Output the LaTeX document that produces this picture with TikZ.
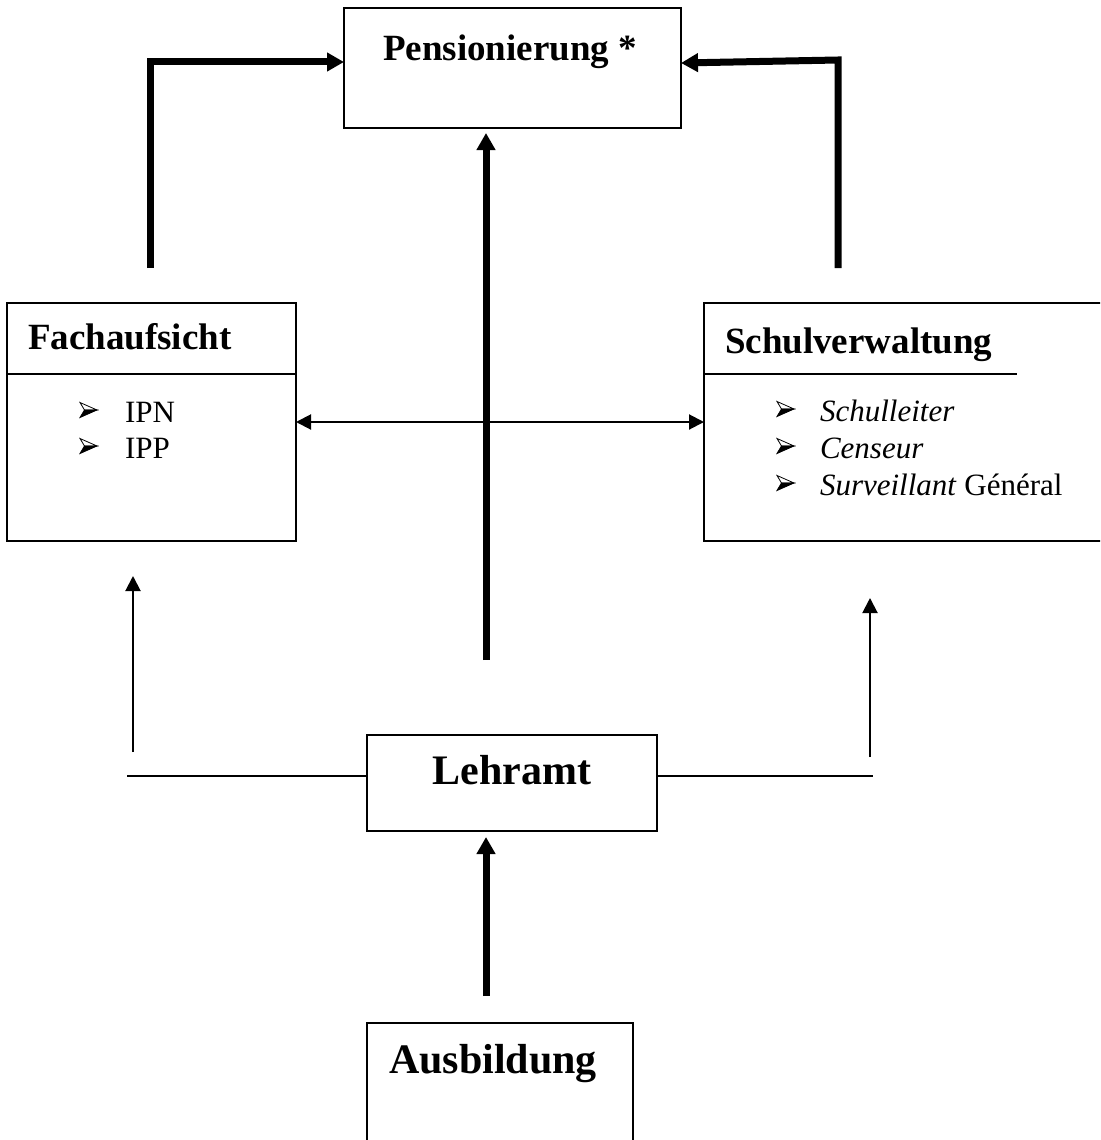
\documentclass[tikz,border=0pt]{standalone}
\usepackage{fontspec}
\setmainfont{Liberation Serif}
\usetikzlibrary{arrows.meta}

\newcommand{\hdfont}{\fontsize{37pt}{44pt}\selectfont\bfseries}
\newcommand{\bigfont}{\fontsize{42pt}{50pt}\selectfont\bfseries}
\newcommand{\itemfont}{\fontsize{31pt}{37pt}\selectfont}

\begin{document}
\begin{tikzpicture}[x=1pt,y=-1pt,
  box/.style={draw, line width=2pt, inner sep=0pt, outer sep=0pt, anchor=north west},
  label/.style={inner sep=0pt, outer sep=0pt, anchor=base west},
  heavy/.style={line width=7pt, line join=miter, -{Triangle[length=17pt,width=18pt]}},
  lightarr/.style={line width=2pt, -{Triangle[length=15pt,width=15pt]}},
  lightboth/.style={line width=2pt, {Triangle[length=15pt,width=15pt]}-{Triangle[length=15pt,width=15pt]}},
  lightline/.style={line width=2pt},
  bul/.pic={
    \filldraw[fill=white, line width=0.8pt, line join=miter] (0,-7.5) -- (17,0) -- (4.5,0) -- cycle;
    \filldraw[line width=0.8pt, line join=miter] (0,7.5) -- (17,0) -- (4.5,0) -- cycle;
  }]
\useasboundingbox (0,0) rectangle (1100,1140);
\clip (0,0) rectangle (1100,1140);

% boxes
\node[box, minimum width=337pt, minimum height=120pt] (pens) at (344,8) {};
\node[box, minimum width=289pt, minimum height=238pt] (fach) at (7,303) {};
\node[box, minimum width=420pt, minimum height=238pt] (schul) at (704,303) {};
\node[box, minimum width=290pt, minimum height=96pt] (lehr) at (367,735) {};
\node[box, minimum width=266pt, minimum height=140pt] (ausb) at (367,1023) {};

% header rules
\draw[lightline] (fach.west |- 0,374) -- (fach.east |- 0,374);
\draw[lightline] (schul.west |- 0,374) -- (1017,374);

% titles
\node[label, font=\hdfont] (penst) at (383,60) {Pensionierung *};
\node[label, font=\hdfont] (facht) at (28,349) {Fachaufsicht};
\node[label, font=\hdfont] (schult) at (725,353) {Schulverwaltung};
\node[label, font=\bigfont, anchor=base] (lehrt) at (512,784) {Lehramt};
\node[label, font=\bigfont] (ausbt) at (389,1073) {Ausbildung};

% item lists
\pic at (80,410) {bul};
\node[label, font=\itemfont] (ipn) at (125,422) {IPN};
\pic at (80,446) {bul};
\node[label, font=\itemfont] (ipp) at (125,458) {IPP};

\pic at (777,409) {bul};
\node[label, font=\itemfont] (sl) at (820,421) {\textit{Schulleiter}};
\pic at (777,446) {bul};
\node[label, font=\itemfont] (cs) at (820,458) {\textit{Censeur}};
\pic at (777,483) {bul};
\node[label, font=\itemfont] (sg) at (820,495) {\textit{Surveillant} Général};

% connector ends
\coordinate (lfoot) at (150,268);
\coordinate (rfoot) at (838,268);
\coordinate (rknee) at (838,60);
\coordinate (cfoot) at (486,660);
\coordinate (afoot) at (486,996);
\coordinate (lend) at (127,776);
\coordinate (rend) at (873,776);
\coordinate (lup) at (133,752);
\coordinate (ltip) at (133,576);
\coordinate (rup) at (870,757);
\coordinate (rtip) at (870,598);

% heavy arrows into Pensionierung
\draw[heavy] (lfoot) |- ([yshift=6pt]pens.west);
\draw[heavy] (rfoot) -- (rknee) -- ([yshift=5pt]pens.east);
\draw[heavy, shorten >=5pt] (cfoot) -- (cfoot |- pens.south);

% Ausbildung to Lehramt
\draw[heavy, shorten >=6pt] (afoot) -- (afoot |- lehr.south);

% link between the two upper boxes
\draw[lightboth] (fach.east) -- (fach.east -| schul.west);

% side branches from Lehramt
\draw[lightline] ([yshift=7pt]lehr.west) -- (lend);
\draw[lightline] ([yshift=7pt]lehr.east) -- (rend);
\draw[lightarr] (lup) -- (ltip);
\draw[lightarr] (rup) -- (rtip);
\end{tikzpicture}
\end{document}
